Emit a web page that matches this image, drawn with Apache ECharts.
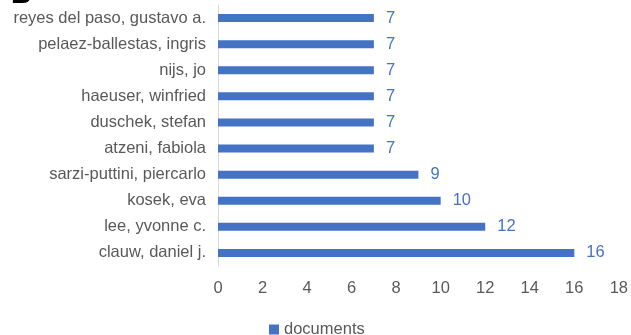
<!DOCTYPE html>
<html>
<head>
<meta charset="utf-8">
<script src="https://cdn.jsdelivr.net/npm/echarts@6/dist/echarts.min.js"></script>
<style>
  html, body { margin: 0; padding: 0; background: #ffffff; }
  #chart { width: 631px; height: 335px; }
</style>
</head>
<body>
<div id="chart"></div>
<script>
// Authors, listed bottom-to-top as the category axis draws them
const authors = [
  'clauw, daniel j.',
  'lee, yvonne c.',
  'kosek, eva',
  'sarzi-puttini, piercarlo',
  'atzeni, fabiola',
  'duschek, stefan',
  'haeuser, winfried',
  'nijs, jo',
  'pelaez-ballestas, ingris',
  'reyes del paso, gustavo a.'
];
const documents = [16, 12, 10, 9, 7, 7, 7, 7, 7, 7];
const seriesName = 'documents';
const panelLetter = 'B';

const chart = echarts.init(document.getElementById('chart'), null, { renderer: 'canvas' });
const font = 'Liberation Sans, Arial, sans-serif';
const barColor = '#4472C4';
const textColor = '#595959';
const fs = 16.5;

chart.setOption({
  animation: false,
  backgroundColor: '#ffffff',
  graphic: [{
    type: 'text',
    left: 11,
    top: -19,
    style: { text: panelLetter, fill: '#000000', font: 'bold 28px ' + font }
  }],
  grid: { left: 218, right: 9, top: 5, bottom: 69, containLabel: false },
  legend: {
    data: [seriesName],
    top: 316,
    left: 264,
    itemWidth: 10,
    itemHeight: 10,
    itemGap: 6,
    icon: 'rect',
    textStyle: { color: textColor, fontSize: fs, fontFamily: font }
  },
  xAxis: {
    type: 'value',
    min: 0,
    max: 18,
    interval: 2,
    axisLine: { show: false },
    axisTick: { show: false },
    splitLine: { show: false },
    axisLabel: { color: textColor, fontSize: fs, fontFamily: font, margin: 14 }
  },
  yAxis: {
    type: 'category',
    data: authors,
    axisLine: { show: true, lineStyle: { color: '#d9d9d9', width: 1 } },
    axisTick: { show: false },
    axisLabel: { color: textColor, fontSize: fs, fontFamily: font, margin: 12 }
  },
  series: [{
    name: seriesName,
    type: 'bar',
    data: documents,
    barWidth: 8,
    itemStyle: { color: barColor },
    label: {
      show: true,
      position: 'right',
      distance: 12,
      color: barColor,
      fontSize: fs,
      fontFamily: font
    }
  }]
});
</script>
</body>
</html>
